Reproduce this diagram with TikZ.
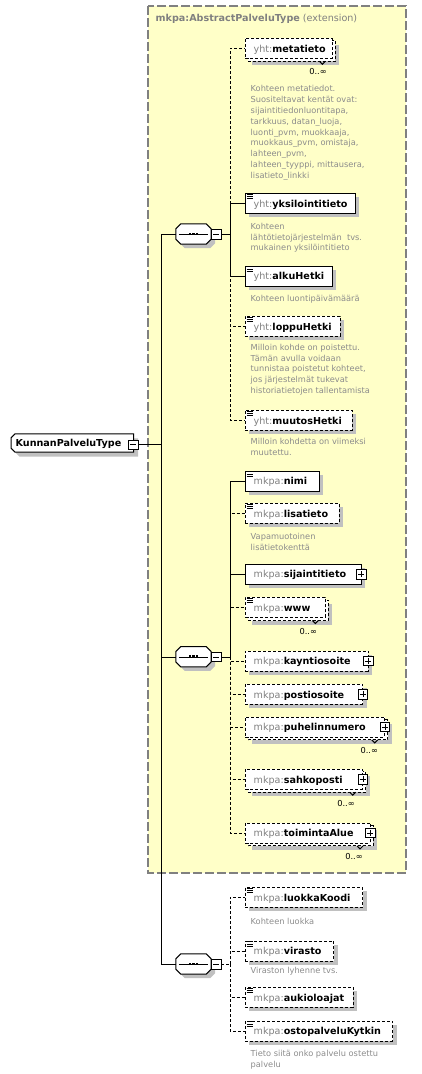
\documentclass[tikz,border=0pt]{standalone}
\usepackage{fontspec}
\setmainfont{DejaVu Sans}
\usetikzlibrary{shadows}
\definecolor{yel}{RGB}{255,255,200}
\definecolor{shc}{RGB}{192,192,192}
\definecolor{pfx}{RGB}{128,128,128}
\definecolor{dsc}{RGB}{140,140,140}
\definecolor{frm}{RGB}{128,128,128}
\newcommand\elf{\fontsize{9.6}{11}\selectfont}
\newcommand\dsf{\fontsize{8.25}{10.8}\selectfont}
\newcommand\lab[2]{\noindent\rule[-2pt]{0pt}{12pt}\hspace*{8.5pt}{\color{pfx}#1:}\textbf{#2}}
\pgfdeclarelayer{bgl}
\pgfdeclarelayer{shl}
\pgfsetlayers{bgl,shl,main}
\newcommand\eqicon[1]{\draw[line width=0.8pt] ([xshift=1.5pt,yshift=-1.3pt]#1.north west) -- ++(6,0) ([xshift=1.5pt,yshift=-3.5pt]#1.north west) -- ++(6,0) ([xshift=1.5pt,yshift=-5.7pt]#1.north west) -- ++(6,0);}
\newcommand\multiback[1]{\begin{pgfonlayer}{shl}
 \fill[shc,transform canvas={xshift=7pt,yshift=-7pt}] (#1.north west) rectangle (#1.south east);
 \draw[line width=1pt,dash pattern=on 3pt off 2pt,fill=white,transform canvas={xshift=3pt,yshift=-3pt}] (#1.north west) rectangle (#1.south east);
 \draw[line width=1pt] ([xshift=-13pt,yshift=-3pt]#1.south east) -- ++(3,3) -- ++(3,-3);
 \end{pgfonlayer}}
\newcommand\minusbox[2]{\node[pm] (#1) at (#2) {}; \draw ([xshift=2pt]#1.west) -- ([xshift=-2pt]#1.east);}
\newcommand\plusbox[2]{\minusbox{#1}{#2} \draw ([yshift=-2pt]#1.north) -- ([yshift=2pt]#1.south);}
\newcommand\octo[1]{([xshift=5pt]#1.north west) -- ([xshift=-5pt]#1.north east) -- ([yshift=-5pt]#1.north east) -- ([yshift=5pt]#1.south east) -- ([xshift=-5pt]#1.south east) -- ([xshift=5pt]#1.south west) -- ([yshift=5pt]#1.south west) -- ([yshift=-5pt]#1.north west) -- cycle}
\newcommand\seqnode[3]{%
 \node[inner sep=0pt, minimum width=35pt, minimum height=20pt] (#1) at (#2,#3) {};
 \begin{pgfonlayer}{shl}
 \fill[shc,transform canvas={xshift=4pt,yshift=-4pt}] \octo{#1};
 \draw[line width=1pt,fill=white] \octo{#1};
 \end{pgfonlayer}
 \draw ([xshift=3pt]#1.west) -- ([xshift=-3pt]#1.east);
 \foreach \dd in {-3.6,0,3.6} \fill ([xshift=\dd pt]#1.center) +(-1.3,-1.4) rectangle +(1.3,1.4);
 \minusbox{#1m}{[xshift=5pt]#1.east}}
\newcommand\kmshape{([xshift=4pt]km.north west) -- (km.north east) -- (km.south east) -- ([xshift=4pt]km.south west) -- ([yshift=4pt]km.south west) -- ([yshift=-4pt]km.north west) -- cycle}
\begin{document}
\begin{tikzpicture}[x=1pt,y=-1pt,line width=1pt,
  pm/.style={draw, fill=white, minimum size=9.5pt, inner sep=0pt},
  elbox/.style={draw, fill=white, anchor=west, minimum height=20pt, inner sep=0pt, text width=#1, align=left, font=\elf},
  sol/.style={elbox=#1, drop shadow={shadow xshift=4pt,shadow yshift=-4pt,fill=shc,opacity=1}},
  opt/.style={elbox=#1, dash pattern=on 3pt off 2pt, drop shadow={shadow xshift=4pt,shadow yshift=-4pt,fill=shc,opacity=1}},
  optm/.style={elbox=#1, dash pattern=on 3pt off 2pt},
  desc/.style={anchor=north west, inner sep=0pt, align=left, font=\dsf, text=dsc},
  occ/.style={font=\dsf, inner sep=0pt, text=black},
  dsh/.style={dash pattern=on 3pt off 2pt}]
\useasboundingbox (0,0) rectangle (421,1074);
\begin{pgfonlayer}{bgl}
\draw[line width=1.2pt, frm, dash pattern=on 9pt off 3pt, fill=yel] (148,6) rectangle (406,873);
\end{pgfonlayer}
\node[anchor=base west, inner sep=0pt, font=\elf, text=frm] (title) at (155.5,21.7) {\textbf{mkpa:AbstractPalveluType} (extension)};
% main node
\node[anchor=west, inner sep=0pt, minimum height=18pt, text width=122.3pt, align=left, font=\elf] (km) at (11,443) {\noindent\rule[-2pt]{0pt}{11pt}\hspace*{4.5pt}\textbf{KunnanPalveluType}};
\begin{pgfonlayer}{shl}
\fill[shc,transform canvas={xshift=4.5pt,yshift=-4.5pt}] \kmshape;
\draw[line width=1pt,fill=white] \kmshape;
\end{pgfonlayer}
\minusbox{kmm}{133.3,444.5}
\coordinate (tr) at (161,444.5);
% sequences
\seqnode{s1}{193.5}{234}
\seqnode{s2}{193.5}{656.7}
\seqnode{s3}{193.5}{964}
\coordinate (b1) at (230,234);
\coordinate (b2) at (230,656.7);
\coordinate (b3) at (230,964);
% seq 1 children
\node[optm=87pt] (meta) at (245,48) {\lab{yht}{metatieto}};
\multiback{meta}
\node[occ] (meta0) at (318,71.7) {0..∞};
\node[sol=110pt] (yks) at (245,203.3) {\lab{yht}{yksilointitieto}}; \eqicon{yks}
\node[sol=86.5pt] (alku) at (245,275.7) {\lab{yht}{alkuHetki}}; \eqicon{alku}
\node[opt=95pt] (loppu) at (245,326) {\lab{yht}{loppuHetki}}; \eqicon{loppu}
\node[opt=107pt] (muutos) at (245,420) {\lab{yht}{muutosHetki}}; \eqicon{muutos}
\node[desc] (dmeta) at (250.5,84.6) {\rule{0pt}{7pt}Kohteen metatiedot.\\Suositeltavat kentät ovat:\\sijaintitiedonluontitapa,\\tarkkuus, datan\_luoja,\\luonti\_pvm, muokkaaja,\\muokkaus\_pvm, omistaja,\\lahteen\_pvm,\\lahteen\_tyyppi, mittausera,\\lisatieto\_linkki};
\node[desc] (dyks) at (250.5,222) {\rule{0pt}{7pt}Kohteen\\lähtötietojärjestelmän\ \ tvs.\\mukainen yksilöintitieto};
\node[desc] (dalku) at (250.5,294) {\rule{0pt}{7pt}Kohteen luontipäivämäärä};
\node[desc] (dloppu) at (250.5,343) {\rule{0pt}{7pt}Milloin kohde on poistettu.\\Tämän avulla voidaan\\tunnistaa poistetut kohteet,\\jos järjestelmät tukevat\\historiatietojen tallentamista};
\node[desc] (dmuutos) at (250.5,437.3) {\rule{0pt}{7pt}Milloin kohdetta on viimeksi\\muutettu.};
% seq 2 children
\node[sol=74pt] (nimi) at (245,480.7) {\lab{mkpa}{nimi}}; \eqicon{nimi}
\node[opt=94pt] (lisa) at (245,513.3) {\lab{mkpa}{lisatieto}}; \eqicon{lisa}
\node[desc] (dlisa) at (250.5,532.3) {\rule{0pt}{7pt}Vapamuotoinen\\lisätietokenttä};
\node[sol=115.7pt] (sij) at (245,574) {\lab{mkpa}{sijaintitieto}};
\plusbox{sijp}{sij.east}
\node[optm=80pt] (www) at (245,607.3) {\lab{mkpa}{www}}; \eqicon{www}
\multiback{www}
\node[occ] (www0) at (308.3,631) {0..∞};
\node[opt=122.7pt] (kay) at (245,660.7) {\lab{mkpa}{kayntiosoite}};
\plusbox{kayp}{kay.east}
\node[opt=117.3pt] (posti) at (245,694) {\lab{mkpa}{postiosoite}};
\plusbox{postip}{posti.east}
\node[optm=139.3pt] (puh) at (245,726.7) {\lab{mkpa}{puhelinnumero}};
\multiback{puh}
\plusbox{puhp}{puh.east}
\node[occ] (puh0) at (369.3,750) {0..∞};
\node[optm=117.3pt] (sah) at (245,779) {\lab{mkpa}{sahkoposti}};
\multiback{sah}
\plusbox{sahp}{sah.east}
\node[occ] (sah0) at (346,803.3) {0..∞};
\node[optm=124.7pt] (toim) at (245,832.7) {\lab{mkpa}{toimintaAlue}};
\multiback{toim}
\plusbox{toimp}{toim.east}
\node[occ] (toim0) at (354,856) {0..∞};
% seq 3 children
\node[opt=117.3pt] (luokka) at (245,897.3) {\lab{mkpa}{luokkaKoodi}}; \eqicon{luokka}
\node[desc] (dluokka) at (250.5,917) {\rule{0pt}{7pt}Kohteen luokka};
\node[opt=88.3pt] (vir) at (245,950.7) {\lab{mkpa}{virasto}}; \eqicon{vir}
\node[desc] (dvir) at (250.5,966.3) {\rule{0pt}{7pt}Viraston lyhenne tvs.};
\node[opt=107.7pt] (auk) at (245,997.3) {\lab{mkpa}{aukioloajat}}; \eqicon{auk}
\node[opt=147.3pt] (osto) at (245,1030.7) {\lab{mkpa}{ostopalveluKytkin}}; \eqicon{osto}
\node[desc] (dosto) at (250.5,1049) {\rule{0pt}{7pt}Tieto siitä onko palvelu ostettu\\palvelu};
% connectors
\draw (kmm.east) -- (tr);
\draw (tr) |- (s1.west);
\draw (tr) |- (s2.west);
\draw (tr) |- (s3.west);
\draw (s1m.east) -- (b1);
\draw (s2m.east) -- (b2);
\draw[dsh] (s3m.east) -- (b3);
\draw[dsh] (b1) |- (meta.west);
\draw[dsh] (b1) |- (loppu.west);
\draw[dsh] (b1) |- (muutos.west);
\draw (b1) |- (yks.west);
\draw (b1) |- (alku.west);
\draw[dsh] (b2) |- (lisa.west);
\draw[dsh] (b2) |- (www.west);
\draw[dsh] (b2) |- (kay.west);
\draw[dsh] (b2) |- (posti.west);
\draw[dsh] (b2) |- (puh.west);
\draw[dsh] (b2) |- (sah.west);
\draw[dsh] (b2) |- (toim.west);
\draw (b2) |- (nimi.west);
\draw (b2) |- (sij.west);
\draw[dsh] (b3) |- (luokka.west);
\draw[dsh] (b3) |- (vir.west);
\draw[dsh] (b3) |- (auk.west);
\draw[dsh] (b3) |- (osto.west);
\end{tikzpicture}
\end{document}
